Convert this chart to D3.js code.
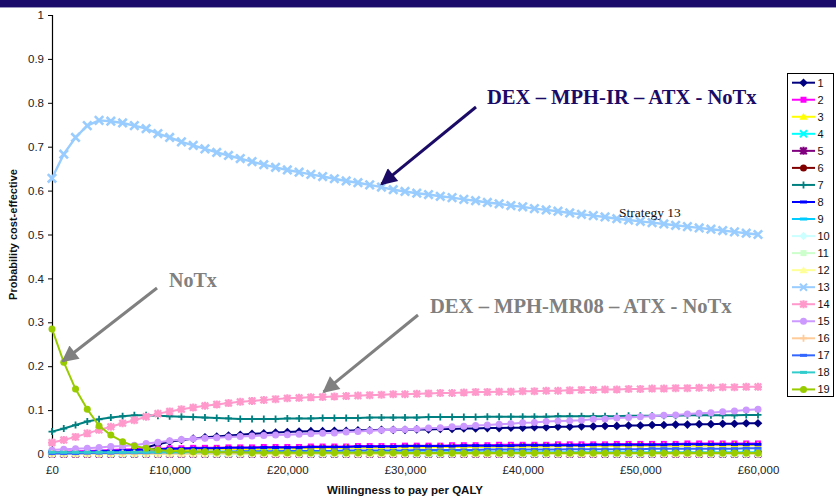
<!DOCTYPE html>
<html><head><meta charset="utf-8">
<script src="https://cdn.jsdelivr.net/npm/d3@7"></script>
<style>body{margin:0;background:#fff;}svg{display:block}</style>
</head><body><svg id="c" width="836" height="496"></svg>
<script>
// ---------- DATA ----------
const wtp = [0,1000,2000,3000,4000,5000,6000,7000,8000,9000,
 10000,11000,12000,13000,14000,15000,16000,17000,18000,19000,
 20000,21000,22000,23000,24000,25000,26000,27000,28000,29000,
 30000,31000,32000,33000,34000,35000,36000,37000,38000,39000,
 40000,41000,42000,43000,44000,45000,46000,47000,48000,49000,
 50000,51000,52000,53000,54000,55000,56000,57000,58000,59000,60000];

const xTickValues = [0,10000,20000,30000,40000,50000,60000];
const yTickValues = [0,0.1,0.2,0.3,0.4,0.5,0.6,0.7,0.8,0.9,1];
const seriesNames = ["1","2","3","4","5","6","7","8","9","10","11","12","13","14","15","16","17","18","19"];

const s1 = [0.002,0.002,0.003,0.003,0.004,0.005,0.007,0.010,0.015,0.022,
 0.028,0.032,0.035,0.038,0.040,0.042,0.044,0.046,0.047,0.049,
 0.050,0.051,0.052,0.052,0.053,0.053,0.054,0.054,0.055,0.055,
 0.055,0.056,0.056,0.057,0.057,0.058,0.058,0.059,0.059,0.060,
 0.060,0.061,0.061,0.062,0.062,0.063,0.063,0.064,0.064,0.065,
 0.065,0.066,0.066,0.067,0.067,0.068,0.068,0.069,0.069,0.070,0.070];
const s2 = [0.004,0.005,0.006,0.007,0.008,0.009,0.010,0.011,0.012,0.012,
 0.013,0.013,0.014,0.014,0.014,0.015,0.015,0.015,0.016,0.016,
 0.016,0.016,0.017,0.017,0.017,0.017,0.018,0.018,0.018,0.018,
 0.019,0.019,0.019,0.019,0.020,0.020,0.020,0.020,0.021,0.021,
 0.021,0.021,0.021,0.022,0.022,0.022,0.022,0.022,0.023,0.023,
 0.023,0.023,0.023,0.023,0.024,0.024,0.024,0.024,0.024,0.024,0.024];
const s3 = [0.001,0.001,0.002,0.002,0.003,0.003,0.004,0.005,0.006,0.007,
 0.008,0.008,0.009,0.009,0.010,0.010,0.011,0.011,0.011,0.012,
 0.012,0.012,0.013,0.013,0.013,0.014,0.014,0.014,0.014,0.015,
 0.015,0.015,0.015,0.016,0.016,0.016,0.016,0.016,0.017,0.017,
 0.017,0.017,0.017,0.018,0.018,0.018,0.018,0.018,0.018,0.019,
 0.019,0.019,0.019,0.019,0.019,0.019,0.020,0.020,0.020,0.020,0.020];
const s4 = [0.002,0.002,0.002,0.002,0.002,0.002,0.002,0.002,0.002,0.002,
 0.002,0.002,0.002,0.002,0.002,0.002,0.002,0.002,0.002,0.002,
 0.002,0.002,0.002,0.002,0.002,0.002,0.002,0.002,0.002,0.002,
 0.002,0.002,0.002,0.002,0.002,0.002,0.002,0.002,0.002,0.002,
 0.002,0.002,0.002,0.002,0.002,0.002,0.002,0.002,0.002,0.002,
 0.002,0.002,0.002,0.002,0.002,0.002,0.002,0.002,0.002,0.002,0.002];
const s5 = [0,0,0,0,0,0,0,0,0,0, 0,0,0,0,0,0,0,0,0,0, 0,0,0,0,0,0,0,0,0,0,
 0,0,0,0,0,0,0,0,0,0, 0,0,0,0,0,0,0,0,0,0, 0,0,0,0,0,0,0,0,0,0, 0];
const s6 = [0,0,0,0,0,0,0,0,0,0, 0,0,0,0,0,0,0,0,0,0, 0,0,0,0,0,0,0,0,0,0,
 0,0,0,0,0,0,0,0,0,0, 0,0,0,0,0,0,0,0,0,0, 0,0,0,0,0,0,0,0,0,0, 0];
const s7 = [0.051,0.058,0.066,0.074,0.079,0.083,0.086,0.088,0.088,0.087,
 0.086,0.085,0.084,0.083,0.082,0.081,0.080,0.080,0.080,0.080,
 0.081,0.081,0.081,0.082,0.082,0.082,0.082,0.083,0.083,0.083,
 0.083,0.083,0.084,0.084,0.084,0.084,0.084,0.085,0.085,0.085,
 0.085,0.085,0.085,0.086,0.086,0.086,0.086,0.086,0.086,0.087,
 0.087,0.087,0.087,0.087,0.088,0.088,0.088,0.088,0.088,0.089,0.089];
const s8 = [0.002,0.003,0.004,0.005,0.006,0.007,0.008,0.009,0.010,0.011,
 0.012,0.012,0.013,0.013,0.013,0.014,0.014,0.014,0.015,0.015,
 0.015,0.015,0.016,0.016,0.016,0.016,0.017,0.017,0.017,0.017,
 0.018,0.018,0.018,0.018,0.018,0.019,0.019,0.019,0.019,0.019,
 0.020,0.020,0.020,0.020,0.020,0.020,0.021,0.021,0.021,0.021,
 0.021,0.021,0.021,0.022,0.022,0.022,0.022,0.022,0.022,0.022,0.022];
const s9 = [0.001,0.001,0.001,0.001,0.001,0.001,0.001,0.001,0.001,0.001,
 0.001,0.001,0.001,0.001,0.001,0.001,0.001,0.001,0.001,0.001,
 0.001,0.001,0.001,0.001,0.001,0.001,0.001,0.001,0.001,0.001,
 0.001,0.001,0.001,0.001,0.001,0.001,0.001,0.001,0.001,0.001,
 0.001,0.001,0.001,0.001,0.001,0.001,0.001,0.001,0.001,0.001,
 0.001,0.001,0.001,0.001,0.001,0.001,0.001,0.001,0.001,0.001,0.001];
const s10 = [0,0,0,0,0,0,0,0,0,0, 0,0,0,0,0,0,0,0,0,0, 0,0,0,0,0,0,0,0,0,0,
 0,0,0,0,0,0,0,0,0,0, 0,0,0,0,0,0,0,0,0,0, 0,0,0,0,0,0,0,0,0,0, 0];
const s11 = [0,0,0,0,0,0,0,0,0,0, 0,0,0,0,0,0,0,0,0,0, 0,0,0,0,0,0,0,0,0,0,
 0,0,0,0,0,0,0,0,0,0, 0,0,0,0,0,0,0,0,0,0, 0,0,0,0,0,0,0,0,0,0, 0];
const s12 = [0.001,0.001,0.001,0.001,0.001,0.001,0.001,0.001,0.001,0.001,
 0.001,0.001,0.001,0.001,0.001,0.001,0.001,0.001,0.001,0.001,
 0.001,0.001,0.001,0.001,0.001,0.001,0.001,0.001,0.001,0.001,
 0.001,0.001,0.001,0.001,0.001,0.001,0.001,0.001,0.001,0.001,
 0.001,0.001,0.001,0.001,0.001,0.001,0.001,0.001,0.001,0.001,
 0.001,0.001,0.001,0.001,0.001,0.001,0.001,0.001,0.001,0.001,0.001];
const s13 = [0.628,0.683,0.721,0.748,0.760,0.758,0.754,0.748,0.741,0.730,
 0.721,0.711,0.703,0.695,0.687,0.680,0.673,0.666,0.659,0.653,
 0.647,0.642,0.637,0.632,0.627,0.622,0.618,0.613,0.608,0.602,
 0.598,0.594,0.591,0.587,0.584,0.580,0.577,0.573,0.570,0.566,
 0.563,0.559,0.556,0.553,0.549,0.546,0.543,0.540,0.536,0.533,
 0.530,0.527,0.524,0.521,0.518,0.515,0.512,0.509,0.506,0.503,0.500];
const s14 = [0.026,0.032,0.039,0.047,0.055,0.062,0.070,0.077,0.085,0.092,
 0.097,0.102,0.106,0.110,0.113,0.116,0.119,0.121,0.123,0.125,
 0.127,0.128,0.129,0.130,0.131,0.132,0.133,0.134,0.135,0.136,
 0.136,0.137,0.138,0.139,0.139,0.140,0.141,0.141,0.142,0.142,
 0.143,0.143,0.144,0.144,0.145,0.146,0.146,0.147,0.147,0.148,
 0.148,0.149,0.149,0.150,0.150,0.151,0.151,0.152,0.152,0.153,0.153];
const s15 = [0.009,0.011,0.012,0.013,0.015,0.017,0.018,0.020,0.024,0.027,
 0.030,0.033,0.035,0.036,0.037,0.039,0.040,0.041,0.042,0.043,
 0.044,0.045,0.046,0.047,0.048,0.050,0.051,0.053,0.054,0.055,
 0.056,0.057,0.059,0.060,0.062,0.063,0.065,0.066,0.068,0.069,
 0.071,0.072,0.074,0.075,0.076,0.077,0.079,0.080,0.082,0.083,
 0.085,0.086,0.088,0.089,0.091,0.093,0.094,0.096,0.098,0.100,0.102];
const s16 = [0.001,0.001,0.001,0.001,0.001,0.001,0.001,0.001,0.001,0.001,
 0.001,0.001,0.001,0.001,0.001,0.001,0.001,0.001,0.001,0.001,
 0.001,0.001,0.001,0.001,0.001,0.001,0.001,0.001,0.001,0.001,
 0.001,0.001,0.001,0.001,0.001,0.001,0.001,0.001,0.001,0.001,
 0.001,0.001,0.001,0.001,0.001,0.001,0.001,0.001,0.001,0.001,
 0.001,0.001,0.001,0.001,0.001,0.001,0.001,0.001,0.001,0.001,0.001];
const s17 = [0.001,0.001,0.001,0.002,0.002,0.002,0.003,0.003,0.003,0.004,
 0.004,0.004,0.005,0.005,0.005,0.005,0.006,0.006,0.006,0.006,
 0.007,0.007,0.007,0.007,0.007,0.008,0.008,0.008,0.008,0.008,
 0.008,0.009,0.009,0.009,0.009,0.009,0.009,0.010,0.010,0.010,
 0.010,0.010,0.010,0.010,0.011,0.011,0.011,0.011,0.011,0.011,
 0.011,0.012,0.012,0.012,0.012,0.012,0.012,0.012,0.012,0.013,0.013];
const s18 = [0.004,0.004,0.004,0.004,0.004,0.004,0.004,0.004,0.004,0.004,
 0.004,0.004,0.004,0.004,0.004,0.004,0.004,0.004,0.004,0.004,
 0.004,0.004,0.004,0.004,0.004,0.004,0.004,0.004,0.004,0.004,
 0.004,0.004,0.004,0.004,0.004,0.004,0.004,0.004,0.004,0.004,
 0.004,0.004,0.004,0.004,0.004,0.004,0.004,0.004,0.004,0.004,
 0.004,0.004,0.004,0.004,0.004,0.004,0.004,0.004,0.004,0.004,0.004];
const s19 = [0.285,0.209,0.148,0.102,0.064,0.043,0.028,0.018,0.013,0.009,
 0.007,0.006,0.005,0.005,0.004,0.004,0.004,0.003,0.003,0.003,
 0.003,0.003,0.003,0.003,0.003,0.003,0.003,0.003,0.003,0.003,
 0.002,0.002,0.002,0.002,0.002,0.002,0.002,0.002,0.002,0.002,
 0.002,0.002,0.002,0.002,0.002,0.002,0.002,0.002,0.002,0.002,
 0.002,0.002,0.002,0.002,0.002,0.002,0.002,0.002,0.002,0.002,0.002];

const allSeries = [s1,s2,s3,s4,s5,s6,s7,s8,s9,s10,s11,s12,s13,s14,s15,s16,s17,s18,s19];

// ---------- STYLE ----------
const colors = ['#000080','#FF00FF','#FFFF00','#00FFFF','#800080','#800000','#008080','#0000FF','#00CCFF',
 '#CCFFFF','#CCFFCC','#FFFF99','#99CCFF','#FF99CC','#CC99FF','#FFCC99','#3366FF','#33CCCC','#99CC00'];
const markers = ['diamond','square','triangle','x','star','circle','plus','dash','dash',
 'diamond','square','triangle','x','star','circle','plus','dash','dash','circle'];

const svg = d3.select('#c');
const M = {left:52, right:758, top:15, bottom:454};
const x = d3.scaleLinear().domain([0,60000]).range([M.left, M.right]);
const y = d3.scaleLinear().domain([0,1]).range([M.bottom, M.top]);

// top banner
svg.append('rect').attr('x',0).attr('y',0).attr('width',836).attr('height',7).attr('fill','#1b0b6b');
svg.append('rect').attr('x',0).attr('y',7).attr('width',836).attr('height',1).attr('fill','#9a96c0');

const font = 'Liberation Sans, Arial, sans-serif';
const serif = 'Liberation Serif, Times New Roman, serif';

// axes
const yAxis = svg.append('g').attr('transform',`translate(${M.left},0)`)
  .call(d3.axisLeft(y).tickValues(yTickValues).tickSize(4).tickPadding(4)
    .tickFormat(d => d===0 ? '0' : d===1 ? '1' : d3.format('.1f')(d)));
yAxis.select('.domain').attr('stroke','#000').attr('stroke-width',1.2);
yAxis.selectAll('.tick line').attr('stroke','#000');
yAxis.selectAll('text').attr('font-family',font).attr('font-size',11.5).attr('fill','#222');

const xAxis = svg.append('g').attr('transform',`translate(0,${M.bottom})`)
  .call(d3.axisBottom(x).tickValues(xTickValues).tickSize(0).tickPadding(12)
    .tickFormat(d => '£' + d3.format(',')(d)));
xAxis.select('.domain').attr('stroke','#000').attr('stroke-width',1);
xAxis.selectAll('text').attr('font-family',font).attr('font-size',11.5).attr('fill','#222');

svg.append('text').attr('transform',`translate(17,${(M.top+M.bottom)/2}) rotate(-90)`)
  .attr('text-anchor','middle').attr('font-family',font).attr('font-weight','bold')
  .attr('font-size',11).attr('fill','#111').text('Probability cost-effective');
svg.append('text').attr('x',(M.left+M.right)/2).attr('y',494)
  .attr('text-anchor','middle').attr('font-family',font).attr('font-weight','bold')
  .attr('font-size',11.5).attr('fill','#111').text('Willingness to pay per QALY');

// marker drawing
function drawMarker(g, type, cx, cy, color, big){
  const s = big ? 4.2 : 3.5;
  switch(type){
    case 'diamond':
      g.append('path').attr('d',`M${cx},${cy-s-0.8}L${cx+s+0.8},${cy}L${cx},${cy+s+0.8}L${cx-s-0.8},${cy}Z`).attr('fill',color); break;
    case 'square':
      g.append('rect').attr('x',cx-3).attr('y',cy-3).attr('width',6).attr('height',6).attr('fill',color); break;
    case 'triangle':
      g.append('path').attr('d',`M${cx},${cy-4}L${cx+4},${cy+3}L${cx-4},${cy+3}Z`).attr('fill',color); break;
    case 'circle':
      g.append('circle').attr('cx',cx).attr('cy',cy).attr('r',3.5).attr('fill',color); break;
    case 'x':
      g.append('path').attr('d',`M${cx-s},${cy-s}L${cx+s},${cy+s}M${cx-s},${cy+s}L${cx+s},${cy-s}`)
        .attr('stroke',color).attr('stroke-width',big?2.6:2).attr('fill','none'); break;
    case 'plus':
      g.append('path').attr('d',`M${cx-s},${cy}L${cx+s},${cy}M${cx},${cy-s}L${cx},${cy+s}`)
        .attr('stroke',color).attr('stroke-width',1.8).attr('fill','none'); break;
    case 'star':
      g.append('path').attr('d',`M${cx-3.3},${cy-3.3}L${cx+3.3},${cy+3.3}M${cx-3.3},${cy+3.3}L${cx+3.3},${cy-3.3}M${cx},${cy-4}L${cx},${cy+4}M${cx-4},${cy}L${cx+4},${cy}`)
        .attr('stroke',color).attr('stroke-width',2.2).attr('fill','none'); break;
    case 'dash':
      g.append('rect').attr('x',cx-3.5).attr('y',cy-1.5).attr('width',7).attr('height',3).attr('fill',color); break;
  }
}

// series
const line = d3.line().x((d,i)=>x(wtp[i])).y(d=>y(d));
const plot = svg.append('g');
allSeries.forEach((vals, k) => {
  const g = plot.append('g');
  const big = seriesNames[k] === '13';
  g.append('path').datum(vals).attr('d', line).attr('fill','none')
    .attr('stroke', colors[k]).attr('stroke-width', big ? 2.4 : 2);
  vals.forEach((v,i) => drawMarker(g, markers[k], x(wtp[i]), y(v), colors[k], big));
});

// legend
const lg = svg.append('g');
lg.append('rect').attr('x',787.5).attr('y',73.5).attr('width',46).attr('height',323)
  .attr('fill','#fff').attr('stroke','#000').attr('stroke-width',1);
seriesNames.forEach((n,k) => {
  const ly = 82.7 + k*17.04;
  lg.append('line').attr('x1',792).attr('x2',815).attr('y1',ly).attr('y2',ly)
    .attr('stroke',colors[k]).attr('stroke-width',2);
  drawMarker(lg, markers[k], 803.5, ly, colors[k], false);
  lg.append('text').attr('x',817.5).attr('y',ly+4).attr('font-family',font)
    .attr('font-size',11).attr('fill','#111').text(n);
});

// annotations
const defs = svg.append('defs');
function arrowHead(id, color){
  defs.append('marker').attr('id',id).attr('viewBox','0 0 10 10').attr('refX',9).attr('refY',5)
    .attr('markerWidth',6.5).attr('markerHeight',5.5).attr('markerUnits','strokeWidth').attr('orient','auto')
    .append('path').attr('d','M0,0L10,5L0,10Z').attr('fill',color);
}
arrowHead('aNavy','#1b0b66');
arrowHead('aGrey','#808080');

const navy = '#1b0b66', grey = '#808080';
// DEX – MPH-IR – ATX - NoTx  -> points at strategy 13 near £28,000
svg.append('line').attr('x1',476).attr('y1',107).attr('x2',x(wtp[28])).attr('y2',y(s13[28])-3)
  .attr('stroke',navy).attr('stroke-width',3).attr('marker-end','url(#aNavy)');
svg.append('text').attr('x',487).attr('y',104).attr('font-family',serif).attr('font-weight','bold')
  .attr('font-size',20.6).attr('fill',navy).text('DEX – MPH-IR – ATX - NoTx');

svg.append('text').attr('x',619).attr('y',216.5).attr('font-family',serif)
  .attr('font-size',13.5).attr('fill','#111').text('Strategy 13');

// NoTx -> strategy 19 at £1,000
svg.append('line').attr('x1',157).attr('y1',288).attr('x2',x(wtp[1])-1).attr('y2',y(s19[1])-1)
  .attr('stroke',grey).attr('stroke-width',3).attr('marker-end','url(#aGrey)');
svg.append('text').attr('x',169).attr('y',286.5).attr('font-family',serif).attr('font-weight','bold')
  .attr('font-size',20).attr('fill',grey).text('NoTx');

// DEX – MPH-MR08 – ATX - NoTx -> strategy 14 near £23,000
svg.append('line').attr('x1',418).attr('y1',315).attr('x2',x(wtp[23])+1).attr('y2',y(s14[23])-5)
  .attr('stroke',grey).attr('stroke-width',3).attr('marker-end','url(#aGrey)');
svg.append('text').attr('x',430).attr('y',312.5).attr('font-family',serif).attr('font-weight','bold')
  .attr('font-size',20.6).attr('fill',grey).text('DEX – MPH-MR08 – ATX - NoTx');
</script></body></html>
